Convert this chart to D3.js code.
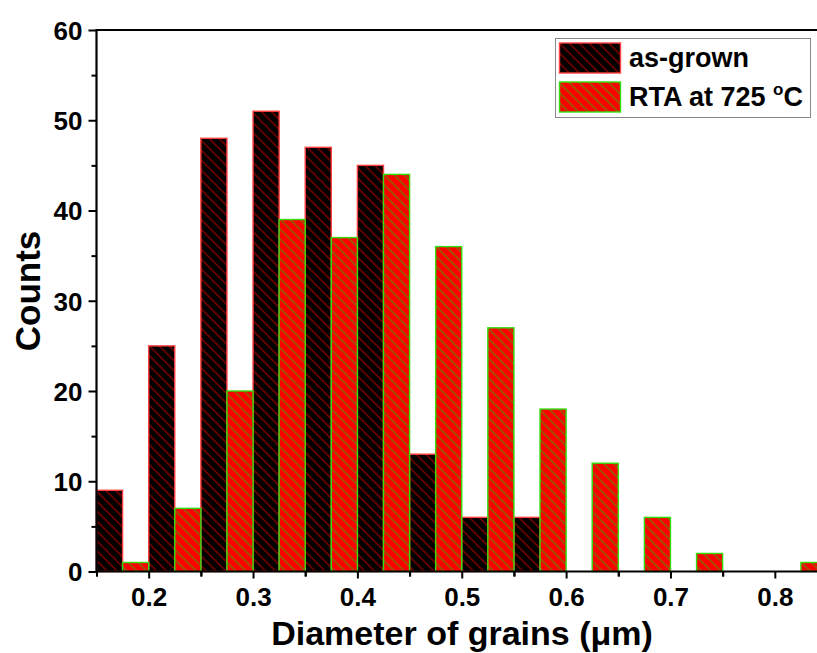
<!DOCTYPE html>
<html>
<head>
<meta charset="utf-8">
<script src="https://cdn.jsdelivr.net/npm/d3@7"></script>
<style>
html,body{margin:0;padding:0;background:#fff;overflow:hidden;}
svg{display:block;font-family:"Liberation Sans",Arial,sans-serif;}
</style>
</head>
<body>
<svg id="chart" width="817" height="653"></svg>
<script>
// ---- data ----
const binStarts = [0.15,0.20,0.25,0.30,0.35,0.40,0.45,0.50,0.55,0.60,0.65,0.70,0.75,0.80];
const asGrown   = [9,25,48,51,47,45,13,6,6,0,0,0,0,0];
const rta       = [1,7,20,39,37,44,36,27,18,12,6,2,0,1];
const seriesNames = ["as-grown","RTA at 725 "];
const seriesSup = ["", "o"];
const seriesTail = ["", "C"];
const xTicks = [0.2,0.3,0.4,0.5,0.6,0.7,0.8];
const yTicks = [0,10,20,30,40,50,60];
const binWidth = 0.05;

// ---- layout ----
const svg = d3.select("#chart");
const pLeft = 96.5, pRight = 827, pTop = 30, pBottom = 571.5;
const x = d3.scaleLinear().domain([0.15,0.85]).range([pLeft,pRight]);
const y = d3.scaleLinear().domain([0,60]).range([pBottom,pTop]);

// patterns
const defs = svg.append("defs");
function pat(id, bg, stripe){
  const p = defs.append("pattern").attr("id",id).attr("patternUnits","userSpaceOnUse")
    .attr("width",7).attr("height",7).attr("patternTransform","rotate(-45)");
  p.append("rect").attr("width",7).attr("height",7).attr("fill",bg);
  p.append("line").attr("x1",1).attr("y1",0).attr("x2",1).attr("y2",7)
    .attr("stroke",stripe).attr("stroke-width",1.6);
}
pat("pBlack","#000000","#7a0000");
pat("pRed","#ff0000","#8a6400");

const styles = [
  {fill:"url(#pBlack)", stroke:"#ff4040"},
  {fill:"url(#pRed)", stroke:"#33dd11"}
];

// bars
const g = svg.append("g");
[asGrown, rta].forEach((vals, si) => {
  g.selectAll(null).data(binStarts.map((b,i)=>({b, v:vals[i]})).filter(d=>d.v>0))
    .enter().append("rect")
    .attr("x", d => x(d.b + si*binWidth/2))
    .attr("width", d => x(d.b + binWidth/2) - x(d.b))
    .attr("y", d => y(d.v))
    .attr("height", d => y(0) - y(d.v))
    .attr("fill", styles[si].fill)
    .attr("stroke", styles[si].stroke)
    .attr("stroke-width", 1.4);
});

// axes
const fontTick = "bold 26px 'Liberation Sans', Arial, sans-serif";
const xAxis = d3.axisBottom(x).tickValues(xTicks).tickSize(7).tickPadding(6).tickFormat(d3.format(".1f"));
const xMinor = d3.axisBottom(x).tickValues(d3.range(0.15,0.86,0.1)).tickSize(5).tickFormat("");
const yAxis = d3.axisLeft(y).tickValues(yTicks).tickSize(8).tickPadding(6).tickFormat(d3.format("d"));
const yMinor = d3.axisLeft(y).tickValues(d3.range(5,60,10)).tickSize(5).tickFormat("");

function styleAxis(sel){
  sel.select(".domain").remove();
  sel.selectAll(".tick line").attr("stroke","#000").attr("stroke-width",2);
  sel.selectAll("text").attr("fill","#000").style("font",fontTick);
}
svg.append("g").attr("transform",`translate(0,${pBottom})`).call(xMinor).call(styleAxis);
svg.append("g").attr("transform",`translate(0,${pBottom})`).call(xAxis).call(styleAxis)
  .selectAll("text").attr("dy","0.82em");
svg.append("g").attr("transform",`translate(0,${pBottom})`).call(xMinor).call(styleAxis);
svg.append("g").attr("transform",`translate(${pLeft},0)`).call(yMinor).call(styleAxis);
svg.append("g").attr("transform",`translate(${pLeft},0)`).call(yAxis).call(styleAxis)
  .selectAll("text").attr("dy","0.36em");

// frame lines
svg.append("line").attr("x1",pLeft).attr("x2",817).attr("y1",pBottom).attr("y2",pBottom).attr("stroke","#000").attr("stroke-width",2.2);
svg.append("line").attr("x1",pLeft).attr("x2",817).attr("y1",pTop).attr("y2",pTop).attr("stroke","#000").attr("stroke-width",2.2);
svg.append("line").attr("x1",pLeft).attr("x2",pLeft).attr("y1",pTop-1).attr("y2",pBottom+1).attr("stroke","#000").attr("stroke-width",2.2);

// axis titles
svg.append("text").attr("x",462).attr("y",645).attr("text-anchor","middle")
  .style("font","bold 34px 'Liberation Sans', Arial, sans-serif").text("Diameter of grains (\u03BCm)");
svg.append("text").attr("transform","translate(40,291) rotate(-90)").attr("text-anchor","middle")
  .style("font","bold 35px 'Liberation Sans', Arial, sans-serif").text("Counts");

// legend
const lg = svg.append("g");
lg.append("rect").attr("x",555.5).attr("y",38.5).attr("width",255).attr("height",79)
  .attr("fill","#fff").attr("stroke","#888").attr("stroke-width",1);
seriesNames.forEach((name,i)=>{
  const yy = 43 + i*39;
  lg.append("rect").attr("x",559.5).attr("y",yy).attr("width",61).attr("height",30)
    .attr("fill",styles[i].fill).attr("stroke",styles[i].stroke).attr("stroke-width",1.4);
  const t = lg.append("text").attr("x",629).attr("y",yy+24)
    .style("font","bold 27px 'Liberation Sans', Arial, sans-serif");
  t.append("tspan").text(name);
  if (seriesSup[i]) {
    t.append("tspan").attr("dy",-11).style("font-size","17px").text(seriesSup[i]);
    t.append("tspan").attr("dy",11).text(seriesTail[i]);
  }
});
</script>
</body>
</html>
